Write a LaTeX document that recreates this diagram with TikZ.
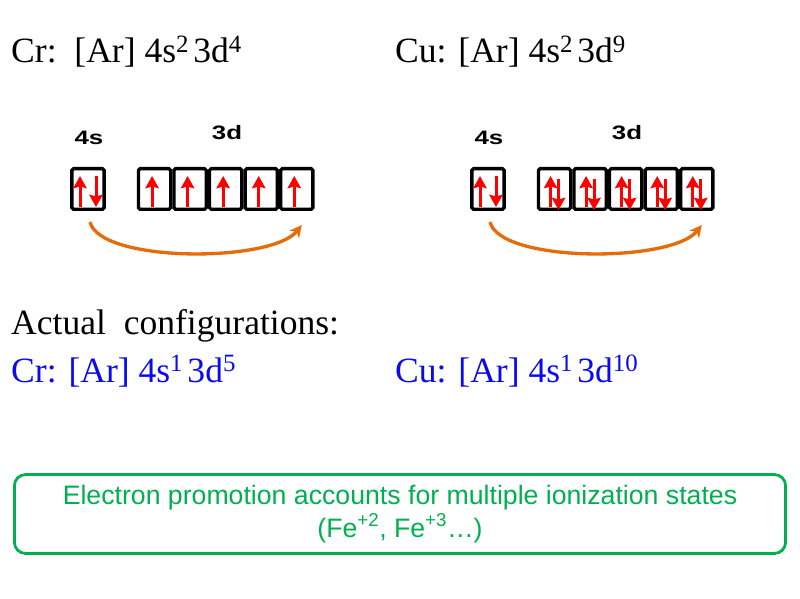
\documentclass[tikz,border=0pt]{standalone}
\usepackage{fontspec}
\setmainfont{Liberation Serif}
\setsansfont{Liberation Sans}
\usetikzlibrary{arrows.meta, calc, positioning}
\definecolor{elecred}{RGB}{255,0,0}
\definecolor{promo}{RGB}{228,108,10}
\definecolor{actblue}{RGB}{10,10,240}
\definecolor{notegreen}{RGB}{0,176,80}

\begin{document}
\begin{tikzpicture}[x=0.9pt, y=-0.9pt,
        orb/.style={draw, line width=3pt, rounded corners=1.5pt, minimum width=29pt, minimum height=36.6pt, inner sep=0pt},
        elec/.style={elecred, line width=2.7pt, -{Stealth[length=11pt, width=12pt, inset=1.5pt]}},
        swoop/.style={promo, line width=3pt, -{Stealth[length=11pt, width=11pt]}},
        config/.style={anchor=base west, inner sep=0pt, font=\fontsize{32}{38}\selectfont},
        shell/.style={font=\sffamily\bfseries\fontsize{17.5}{20}\selectfont},
        note/.style={draw=notegreen, text=notegreen, line width=2.5pt, rounded corners=10pt, align=center,
            minimum width=694pt, minimum height=71pt, font=\sffamily\fontsize{24}{29}\selectfont}]
        \useasboundingbox (0, 0) rectangle (800, 599);

        \node[config] (crgs) at (11, 63) {Cr:\ \ [Ar]\ 4s\textsuperscript{2}\hspace{0.12em}3d\textsuperscript{4}};
        \node[config] (cugs) at (395, 63) {Cu: [Ar]\ 4s\textsuperscript{2}\hspace{0.12em}3d\textsuperscript{9}};

        % chromium boxes
        \node[orb] (cr4s) at (88, 189) {};
        \node[orb, right=27.9pt of cr4s] (cr3d1) {};
        \node[orb, right=0pt of cr3d1] (cr3d2) {};
        \node[orb, right=0pt of cr3d2] (cr3d3) {};
        \node[orb, right=0pt of cr3d3] (cr3d4) {};
        \node[orb, right=0pt of cr3d4] (cr3d5) {};
        \node[shell] (crs) at (89, 138) {\scalebox{1.33}[1]{4s}};
        \node[shell] (crd) at (227, 133) {\scalebox{1.33}[1]{3d}};
        \draw[elec] ($(cr4s)+(-8, 18)$) -- ($(cr4s)+(-8, -13)$);
        \draw[elec] ($(cr4s)+(8, -13)$) -- ($(cr4s)+(8, 18)$);
        \draw[elec] ($(cr3d1)+(-2.5, 18)$) -- ($(cr3d1)+(-2.5, -13)$);
        \draw[elec] ($(cr3d2)+(-2.5, 18)$) -- ($(cr3d2)+(-2.5, -13)$);
        \draw[elec] ($(cr3d3)+(-2.5, 18)$) -- ($(cr3d3)+(-2.5, -13)$);
        \draw[elec] ($(cr3d4)+(-2.5, 18)$) -- ($(cr3d4)+(-2.5, -13)$);
        \draw[elec] ($(cr3d5)+(-2.5, 18)$) -- ($(cr3d5)+(-2.5, -13)$);
        \coordinate (crfrom) at ($(cr4s.south)+(2, 11)$);
        \coordinate (crto) at ($(cr3d5.south)+(5, 14)$);
        \draw[swoop] (crfrom) .. controls ($(crfrom)+(10, 41)$) and ($(crto)+(-30, 38)$) .. (crto);

        % copper boxes
        \node[orb] (cu4s) at (488, 189) {};
        \node[orb, right=27.9pt of cu4s] (cu3d1) {};
        \node[orb, right=0pt of cu3d1] (cu3d2) {};
        \node[orb, right=0pt of cu3d2] (cu3d3) {};
        \node[orb, right=0pt of cu3d3] (cu3d4) {};
        \node[orb, right=0pt of cu3d4] (cu3d5) {};
        \node[shell] (cus) at (489, 138) {\scalebox{1.33}[1]{4s}};
        \node[shell] (cud) at (627, 133) {\scalebox{1.33}[1]{3d}};
        \draw[elec] ($(cu4s)+(-8, 18)$) -- ($(cu4s)+(-8, -13)$);
        \draw[elec] ($(cu4s)+(8, -13)$) -- ($(cu4s)+(8, 18)$);
        \draw[elec] ($(cu3d1)+(-4, 18)$) -- ($(cu3d1)+(-4, -13)$);
        \draw[elec] ($(cu3d1)+(4, -10)$) -- ($(cu3d1)+(4, 21)$);
        \draw[elec] ($(cu3d2)+(-4, 18)$) -- ($(cu3d2)+(-4, -13)$);
        \draw[elec] ($(cu3d2)+(4, -10)$) -- ($(cu3d2)+(4, 21)$);
        \draw[elec] ($(cu3d3)+(-4, 18)$) -- ($(cu3d3)+(-4, -13)$);
        \draw[elec] ($(cu3d3)+(4, -10)$) -- ($(cu3d3)+(4, 21)$);
        \draw[elec] ($(cu3d4)+(-4, 18)$) -- ($(cu3d4)+(-4, -13)$);
        \draw[elec] ($(cu3d4)+(4, -10)$) -- ($(cu3d4)+(4, 21)$);
        \draw[elec] ($(cu3d5)+(-4, 18)$) -- ($(cu3d5)+(-4, -13)$);
        \draw[elec] ($(cu3d5)+(4, -10)$) -- ($(cu3d5)+(4, 21)$);
        \coordinate (cufrom) at ($(cu4s.south)+(2, 11)$);
        \coordinate (cuto) at ($(cu3d5.south)+(5, 14)$);
        \draw[swoop] (cufrom) .. controls ($(cufrom)+(10, 41)$) and ($(cuto)+(-30, 38)$) .. (cuto);

        \node[config] (actual) at (11, 335) {Actual\ \ configurations:};
        \node[config, actblue] (crac) at (11, 382) {Cr: [Ar]\ 4s\textsuperscript{1}\hspace{0.12em}3d\textsuperscript{5}};
        \node[config, actblue] (cuac) at (395, 382) {Cu: [Ar]\ 4s\textsuperscript{1}\hspace{0.12em}3d\textsuperscript{10}};

        \node[note] (states) at (400, 514) {Electron promotion accounts for multiple ionization states\\(Fe\textsuperscript{+2}, Fe\textsuperscript{+3}\dots)};
    \end{tikzpicture}
\end{document}
